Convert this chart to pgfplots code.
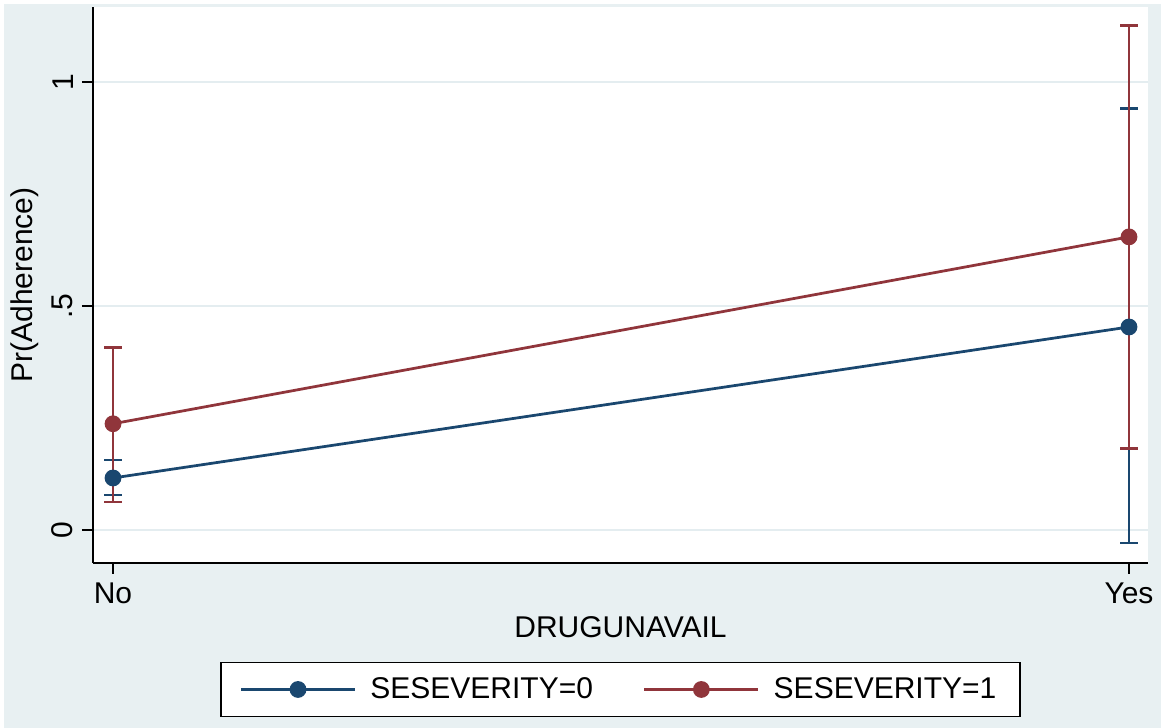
\documentclass[border=0pt]{standalone}
\usepackage{pgfplots}
\pgfplotsset{compat=1.18}
\usepackage{fontspec}
\setmainfont{Liberation Sans}

\definecolor{stnavy}{RGB}{26,71,111}
\definecolor{stmaroon}{RGB}{144,53,59}
\definecolor{bluegray}{RGB}{232,240,242}
\definecolor{gridc}{RGB}{228,237,240}

\begin{document}
\begin{tikzpicture}
% page and outer region (1px = 0.4pt, origin at the plot corner)
\path[use as bounding box, fill=white] (-37.2pt,-66pt) rectangle (427.2pt,225.2pt);
\fill[bluegray] (-35.6pt,-66pt) rectangle (427.2pt,223.6pt);
\begin{axis}[
    scale only axis,
    width=422pt, height=222.4pt,
    xmin=-0.0197, xmax=1.0187,
    ymin=-0.0737, ymax=1.167,
    axis background/.style={fill=white},
    axis lines*=left,
    axis line style={-, black, line width=0.6pt},
    tick align=outside,
    major tick length=4.4pt,
    tick style={black, line width=0.6pt},
    xtick={0,1}, xticklabels={No,Yes},
    ytick={0,0.5,1}, yticklabels={0,.5,1},
    ymajorgrids=true,
    grid style={gridc, line width=0.9pt},
    /pgf/number format/assume math mode=true,
    ticklabel style={font=\fontsize{12}{14}\selectfont},
    yticklabel style={rotate=90, anchor=south},
    xlabel={DRUGUNAVAIL},
    ylabel={Pr(Adherence)},
    label style={font=\fontsize{12}{14}\selectfont},
    xlabel style={at={(axis description cs:0.5,-0.115)}, anchor=center},
    ylabel style={at={(axis description cs:-0.0645,0.5)}, anchor=center},
    legend columns=2,
    legend cell align=left,
    legend style={at={(0.5,-0.2275)}, anchor=center, draw=black, fill=white,
        line width=0.6pt,
        font=\fontsize{12}{14}\selectfont,
        inner xsep=7.5pt, inner ysep=3.8pt,
        /tikz/every odd column/.append style={column sep=3.6pt},
        /tikz/every even column/.append style={column sep=18pt}},
    legend image code/.code={
        \draw[mark repeat=2,mark phase=2,#1]
            plot coordinates {(0pt,0pt)(22.8pt,0pt)(45.6pt,0pt)};},
    every axis plot/.append style={line width=1.1pt},
    error bars/error bar style={line width=1.1pt},
    error bars/error mark options={rotate=90, mark size=3.5pt, line width=1.1pt},
]
\addplot[color=stnavy, mark=*, mark size=2.8pt,
    error bars/.cd, y dir=both, y explicit]
    coordinates {
    (0,0.116) += (0,0.040) -= (0,0.038)
    (1,0.453) += (0,0.487) -= (0,0.482)
    };
\addlegendentry{SESEVERITY=0}
\addplot[color=stmaroon, mark=*, mark size=2.8pt,
    error bars/.cd, y dir=both, y explicit]
    coordinates {
    (0,0.237) += (0,0.171) -= (0,0.1745)
    (1,0.654) += (0,0.471) -= (0,0.473)
    };
\addlegendentry{SESEVERITY=1\hspace{4.5pt}}
\end{axis}
\end{tikzpicture}
\end{document}
